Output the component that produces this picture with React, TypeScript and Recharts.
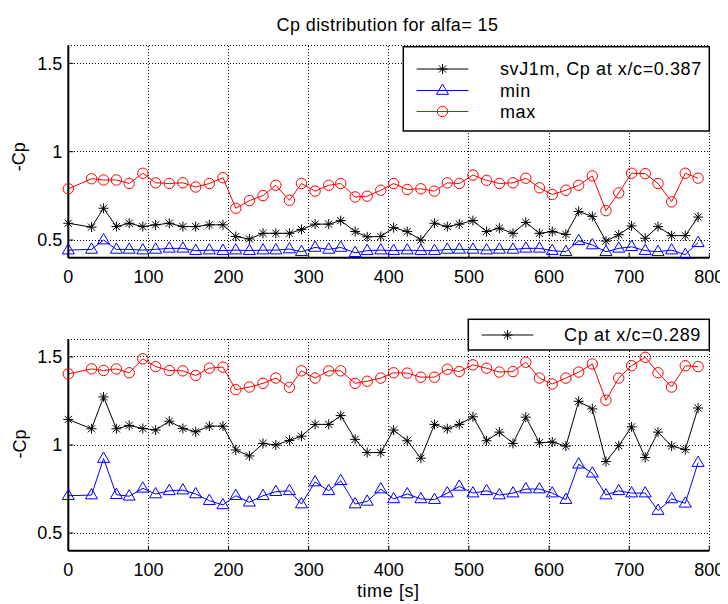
import { LineChart, Line, XAxis, YAxis, CartesianGrid, Customized } from 'recharts';

// time samples [s]
const TIME = [
  0, 29, 44, 60, 76, 93, 109, 126, 143, 159, 176, 193, 209, 226, 243, 259,
  276, 291, 308, 325, 340, 358, 373, 390, 406, 423, 440, 457, 473, 488, 505, 522,
  538, 555, 571, 588, 604, 621, 637, 654, 671, 687, 703, 720, 736, 753, 770, 786,
];

// upper panel, x/c = 0.387
const TOP_CP = [
  0.595, 0.573, 0.68, 0.576, 0.595, 0.576, 0.586, 0.595, 0.576, 0.576, 0.586, 0.586, 0.52, 0.506, 0.538, 0.538,
  0.538, 0.56, 0.59, 0.59, 0.61, 0.548, 0.518, 0.52, 0.57, 0.548, 0.5, 0.595, 0.576, 0.59, 0.61, 0.548,
  0.567, 0.538, 0.6, 0.538, 0.548, 0.532, 0.662, 0.634, 0.494, 0.53, 0.58, 0.51, 0.576, 0.525, 0.525, 0.63,
];
const TOP_MIN = [
  0.443, 0.447, 0.5, 0.447, 0.447, 0.443, 0.447, 0.453, 0.453, 0.44, 0.443, 0.44, 0.443, 0.44, 0.443, 0.443,
  0.449, 0.434, 0.458, 0.447, 0.458, 0.428, 0.44, 0.443, 0.44, 0.443, 0.44, 0.44, 0.447, 0.447, 0.447, 0.443,
  0.447, 0.447, 0.453, 0.453, 0.44, 0.434, 0.496, 0.472, 0.434, 0.453, 0.462, 0.44, 0.434, 0.443, 0.417, 0.485,
];
const TOP_MAX = [
  0.79, 0.847, 0.84, 0.84, 0.82, 0.878, 0.824, 0.82, 0.824, 0.8, 0.82, 0.853, 0.68, 0.723, 0.752, 0.81,
  0.725, 0.82, 0.777, 0.81, 0.82, 0.744, 0.748, 0.782, 0.82, 0.786, 0.79, 0.777, 0.824, 0.82, 0.868, 0.838,
  0.82, 0.824, 0.85, 0.796, 0.758, 0.782, 0.81, 0.863, 0.666, 0.767, 0.878, 0.876, 0.82, 0.716, 0.878, 0.85,
];

// lower panel, x/c = 0.289
const BOT_CP = [
  1.145, 1.092, 1.273, 1.092, 1.111, 1.094, 1.085, 1.135, 1.094, 1.075, 1.107, 1.107, 0.972, 0.938, 1.009, 1.0,
  1.026, 1.05, 1.117, 1.117, 1.167, 1.032, 0.957, 0.957, 1.085, 1.024, 0.925, 1.117, 1.092, 1.117, 1.16, 1.024,
  1.073, 1.009, 1.158, 1.013, 1.017, 0.994, 1.248, 1.205, 0.906, 0.996, 1.103, 0.929, 1.073, 0.994, 0.974, 1.21,
];
const BOT_MIN = [
  0.712, 0.716, 0.923, 0.718, 0.709, 0.754, 0.722, 0.74, 0.744, 0.722, 0.684, 0.66, 0.712, 0.675, 0.712, 0.735,
  0.74, 0.665, 0.79, 0.74, 0.797, 0.665, 0.68, 0.75, 0.694, 0.722, 0.694, 0.69, 0.727, 0.765, 0.727, 0.74,
  0.716, 0.727, 0.75, 0.75, 0.727, 0.69, 0.891, 0.84, 0.716, 0.74, 0.727, 0.727, 0.628, 0.694, 0.669, 0.9,
];
const BOT_MAX = [
  1.404, 1.432, 1.423, 1.432, 1.41, 1.489, 1.445, 1.423, 1.421, 1.395, 1.436, 1.442, 1.314, 1.329, 1.35, 1.38,
  1.327, 1.421, 1.38, 1.421, 1.421, 1.35, 1.362, 1.38, 1.41, 1.408, 1.385, 1.385, 1.43, 1.417, 1.455, 1.436,
  1.414, 1.417, 1.47, 1.38, 1.346, 1.38, 1.414, 1.46, 1.254, 1.38, 1.45, 1.498, 1.41, 1.329, 1.45, 1.445,
];

const X_TICKS = [0, 100, 200, 300, 400, 500, 600, 700, 800];
const Y_TICKS = [0.5, 1, 1.5];

const TITLE = 'Cp distribution for alfa= 15';
const TOP_LEGEND = ['svJ1m, Cp at x/c=0.387', 'min', 'max'];
const BOT_LEGEND = 'Cp at x/c=0.289';

const FONT = '"Liberation Sans", Arial, Helvetica, sans-serif';
const FS = 18;

const rowsOf = (cp: number[], lo: number[], hi: number[]) =>
  TIME.map((t, i) => ({ t, cp: cp[i], lo: lo[i], hi: hi[i] }));

function Star({ cx, cy }: { cx: number; cy: number }) {
  const r = 5, d = 3.6;
  return (
    <g stroke="#000" strokeWidth={1}>
      <line x1={cx - r} y1={cy} x2={cx + r} y2={cy} />
      <line x1={cx} y1={cy - r} x2={cx} y2={cy + r} />
      <line x1={cx - d} y1={cy - d} x2={cx + d} y2={cy + d} />
      <line x1={cx - d} y1={cy + d} x2={cx + d} y2={cy - d} />
    </g>
  );
}

function Tri({ cx, cy }: { cx: number; cy: number }) {
  return (
    <polygon
      points={`${cx},${cy - 6.5} ${cx - 6},${cy + 3.8} ${cx + 6},${cy + 3.8}`}
      fill="none" stroke="#0000ff" strokeWidth={1}
    />
  );
}

function Circ({ cx, cy }: { cx: number; cy: number }) {
  return <circle cx={cx} cy={cy} r={5.2} fill="none" stroke="#ff0000" strokeWidth={1} />;
}

const starDot = (p: any) => <Star key={`s${p.index}`} cx={p.cx} cy={p.cy} />;
const triDot = (p: any) => <Tri key={`t${p.index}`} cx={p.cx} cy={p.cy} />;
const circDot = (p: any) => <Circ key={`c${p.index}`} cx={p.cx} cy={p.cy} />;

function LegendRow({ y, x0, x1, tx, color, label, Mark, ls }: any) {
  return (
    <g>
      <line x1={x0} y1={y} x2={x1} y2={y} stroke={color} strokeWidth={1} />
      <Mark cx={(x0 + x1) / 2} cy={y} />
      <text x={tx} y={y} dominantBaseline="central" fontSize={FS} fill="#000" letterSpacing={ls}>
        {label}
      </text>
    </g>
  );
}

function TopExtras() {
  return (
    <g fontFamily={FONT}>
      <text x={379.5} y={23} textAnchor="middle" fontSize={FS} fill="#000" letterSpacing={0.4}>
        {TITLE}
      </text>
      <text x={17.5} y={148.7} transform="rotate(-90 17.5 148.7)" textAnchor="middle" fontSize={FS} fill="#000">
        -Cp
      </text>
      <rect x={395.3} y={38.7} width={306} height={84.3} fill="#fff" stroke="#000" strokeWidth={1.5} />
      <LegendRow y={61} x0={408.7} x1={460.3} tx={492} color="#000" label={TOP_LEGEND[0]} Mark={Star} ls={0.6} />
      <LegendRow y={82.5} x0={408.7} x1={460.3} tx={492} color="#0000ff" label={TOP_LEGEND[1]} Mark={Tri} ls={0.6} />
      <LegendRow y={103.5} x0={408.7} x1={460.3} tx={492} color="#ff0000" label={TOP_LEGEND[2]} Mark={Circ} ls={0.6} />
    </g>
  );
}

function BottomExtras() {
  return (
    <g fontFamily={FONT}>
      <text x={17.5} y={136} transform="rotate(-90 17.5 136)" textAnchor="middle" fontSize={FS} fill="#000">
        -Cp
      </text>
      <text x={380.3} y={288.7} textAnchor="middle" fontSize={FS} fill="#000" letterSpacing={0.6}>
        time [s]
      </text>
      <rect x={460.3} y={11.3} width={241} height={30.7} fill="#fff" stroke="#000" strokeWidth={1.5} />
      <LegendRow y={27} x0={473.7} x1={525.3} tx={556} color="#000" label={BOT_LEGEND} Mark={Star} ls={0.7} />
    </g>
  );
}

const axisLine = { stroke: '#000', strokeWidth: 2 };
const tickStyle = { fill: '#000', fontSize: FS, fontFamily: FONT };

function Panel({ data, height, mTop, mBottom, extras }: any) {
  return (
    <LineChart
      width={720}
      height={height}
      data={data}
      margin={{ top: mTop, right: 18.7, left: 0, bottom: mBottom }}
      style={{ fontFamily: FONT }}
    >
      <CartesianGrid stroke="#000" strokeDasharray="1 2" strokeWidth={1} />
      <XAxis
        dataKey="t" type="number" domain={[0, 800]} ticks={X_TICKS} interval={0}
        height={30} tickSize={-5} tickMargin={17.5} axisLine={axisLine}
        tickLine={{ stroke: '#000' }} tick={tickStyle}
      />
      <XAxis
        xAxisId="top" orientation="top" dataKey="t" type="number" domain={[0, 800]}
        ticks={X_TICKS} interval={0} height={0} tickSize={-5} axisLine={axisLine}
        tickLine={{ stroke: '#000' }} tick={false}
      />
      <YAxis
        type="number" domain={[0.4, 1.6]} ticks={Y_TICKS} interval={0} width={60.3}
        tickSize={-5} tickMargin={11} axisLine={axisLine} tickLine={{ stroke: '#000' }} tick={tickStyle}
      />
      <YAxis
        yAxisId="right" orientation="right" type="number" domain={[0.4, 1.6]} ticks={Y_TICKS}
        interval={0} width={0} tickSize={-5} axisLine={axisLine} tickLine={{ stroke: '#000' }} tick={false}
      />
      <Line dataKey="cp" stroke="#000" strokeWidth={1} dot={starDot} activeDot={false} isAnimationActive={false} />
      <Line dataKey="lo" stroke="#0000ff" strokeWidth={1} dot={triDot} activeDot={false} isAnimationActive={false} />
      <Line dataKey="hi" stroke="#ff0000" strokeWidth={1} dot={circDot} activeDot={false} isAnimationActive={false} />
      <Customized component={extras} />
    </LineChart>
  );
}

export default function App() {
  return (
    <div style={{ position: 'relative', width: 720, height: 596, background: '#fff', fontFamily: FONT }}>
      <style>{'.recharts-cartesian-grid line { shape-rendering: crispEdges; }'}</style>
      <div style={{ position: 'absolute', left: 0, top: 0 }}>
        <Panel data={rowsOf(TOP_CP, TOP_MIN, TOP_MAX)} height={300} mTop={37.7} mBottom={20.3} extras={<TopExtras />} />
      </div>
      <div style={{ position: 'absolute', left: 0, top: 300 }}>
        <Panel data={rowsOf(BOT_CP, BOT_MIN, BOT_MAX)} height={296} mTop={31.3} mBottom={23.3} extras={<BottomExtras />} />
      </div>
    </div>
  );
}
